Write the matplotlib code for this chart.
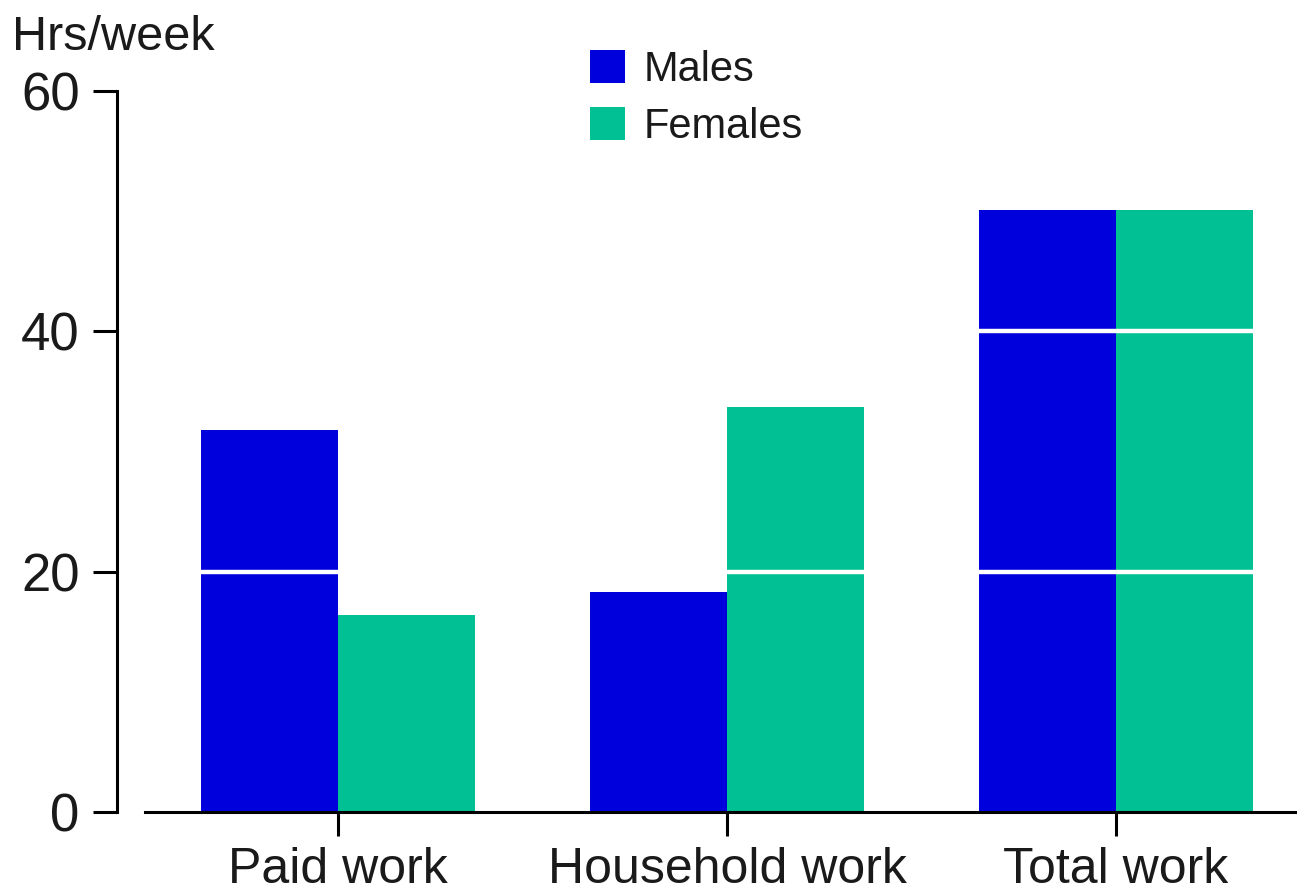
import matplotlib.pyplot as plt
import numpy as np
from matplotlib import font_manager

plt.rcParams['font.family'] = ['Liberation Sans', 'DejaVu Sans']

categories = ['Paid work', 'Household work', 'Total work']
males = [31.8, 18.3, 50.1]
females = [16.4, 33.7, 50.1]
yticks = [0, 20, 40, 60]

blue = '#0000dc'
green = '#00c094'
ink = '#1a1a1a'

names = {f.name for f in font_manager.fontManager.ttflist}
narrow = 'Liberation Sans Narrow' if 'Liberation Sans Narrow' in names else 'Liberation Sans'

fig = plt.figure(figsize=(12.97, 8.93), dpi=100)
ax = fig.add_axes([145/1297, 81/893, 1 - 145/1297, 721/893])

x = np.arange(len(categories))
w = 0.352
ax.bar(x - w/2, males, w, color=blue, label='Males', zorder=2)
ax.bar(x + w/2, females, w, color=green, label='Females', zorder=2)

# white rules across the bars
for v in yticks[1:-1]:
    ax.axhline(v, color='white', lw=3.2, zorder=3)

ax.set_xlim(-0.496, 2.465)
ax.set_ylim(0, 60)
ax.set_yticks(yticks)
ax.set_xticks(x)
ax.set_xticklabels(categories, fontsize=36, family=[narrow, 'DejaVu Sans'], color=ink)
ax.tick_params(axis='y', labelsize=38, length=17, width=2.2, pad=10, labelcolor=ink)
ax.tick_params(axis='x', length=17, width=2.2, pad=8)

for s in ['top', 'right']:
    ax.spines[s].set_visible(False)
ax.spines['left'].set_position(('outward', 20))
ax.spines['left'].set_linewidth(2.2)
ax.spines['bottom'].set_linewidth(2.2)
ax.spines['bottom'].set_zorder(5)

fig.text(12/1297, 1 - 50/893, 'Hrs/week', fontsize=35, va='baseline', color=ink)

leg = ax.legend(loc='upper left', bbox_to_anchor=(569/1297, 1 - 29/893), bbox_transform=fig.transFigure,
                frameon=False, fontsize=30, handlelength=0.85, handleheight=0.85,
                handletextpad=0.45, labelspacing=0.4, borderpad=0)
for t in leg.get_texts():
    t.set_color(ink)

fig.savefig('out.png', dpi=100)
